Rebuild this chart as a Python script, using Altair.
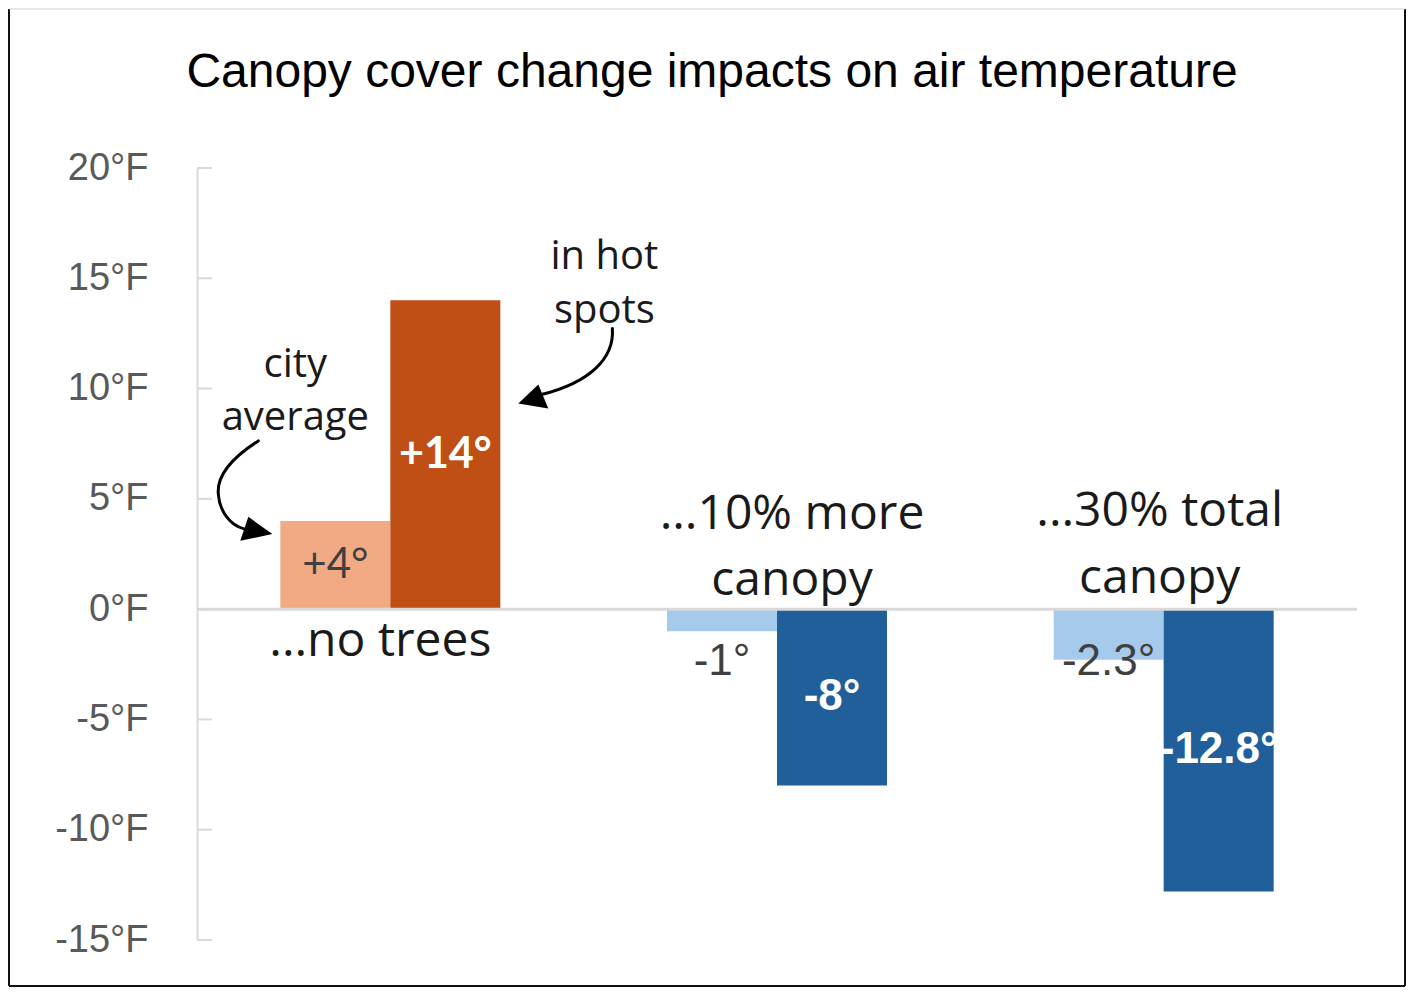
import altair as alt
import pandas as pd

# ---------------- data ----------------
groups = ["...no trees", "...10% more canopy", "...30% total canopy"]
series = ["city average", "in hot spots"]
city_avg = [4, -1, -2.3]
hot_spots = [14, -8, -12.8]
y_ticks = [-15, -10, -5, 0, 5, 10, 15, 20]
title_text = "Canopy cover change impacts on air temperature"
group_lines = [["...no trees"], ["...10% more", "canopy"], ["...30% total", "canopy"]]
bar_keys = ["warm-city average", "warm-in hot spots", "cool-city average", "cool-in hot spots"]
bar_colors = ["#F1AA84", "#C04F15", "#A6CAEC", "#215F9A"]

rows = []
for g, a, h in zip(groups, city_avg, hot_spots):
    for s, v in zip(series, [a, h]):
        key = ("warm" if v > 0 else "cool") + "-" + s
        # value labels: centred in the bar, small cool city-average labels sit just below the zero line
        label_y = v / 2 if (v > 0 or s == series[1]) else -2.4
        rows.append({"group": g, "series": s, "value": v, "key": key,
                     "label": f"{v:+g}°", "label_y": label_y})
df = pd.DataFrame(rows)

W, H = 1160, 772

X = alt.X("group:N", sort=groups, axis=None,
          scale=alt.Scale(paddingInner=0.431, paddingOuter=0.2155))
XO = alt.XOffset("series:N", sort=series,
                 scale=alt.Scale(paddingInner=0, paddingOuter=0))
yscale = alt.Scale(domain=[-15, 20], nice=False, zero=False)
yaxis = alt.Axis(values=y_ticks, labelExpr="datum.value + '°F'", title=None,
                 ticks=False, tickSize=0, domain=True, domainColor="#D9D9D9",
                 domainWidth=2, grid=False, labelFont="Liberation Sans",
                 labelFontSize=38, labelColor="#595959", labelPadding=49)


def Yf(field):
    return alt.Y(field, scale=yscale, axis=yaxis)


# ---------------- layers ----------------
tick_rules = alt.Chart(pd.DataFrame({"tick": y_ticks})).mark_rule(
    color="#D9D9D9", strokeWidth=2
).encode(y=Yf("tick:Q"), x=alt.value(0), x2=alt.value(15))

bars = alt.Chart(df).mark_bar().encode(
    x=X,
    xOffset=XO,
    y=Yf("value:Q"),
    color=alt.Color("key:N", scale=alt.Scale(domain=bar_keys, range=bar_colors), legend=None),
)

zero_line = alt.Chart(pd.DataFrame({"z": [0]})).mark_rule(
    color="#D9D9D9", strokeWidth=3
).encode(y=Yf("z:Q"), x=alt.value(0), x2=alt.value(W))


def value_labels(key, font, size, weight, color):
    return alt.Chart(df).transform_filter(alt.datum.key == key).mark_text(
        font=font, fontSize=size, fontWeight=weight, color=color,
        align="center", baseline="middle"
    ).encode(x=X, xOffset=XO, y=Yf("label_y:Q"), text="label:N")


lab1 = value_labels(bar_keys[0], "Lato", 42, "normal", "#404040")
lab2 = value_labels(bar_keys[1], "Lato", 43, "bold", "#FFFFFF")
lab3 = value_labels(bar_keys[2], "Liberation Sans", 44, "normal", "#404040")
lab4 = value_labels(bar_keys[3], "Liberation Sans", 44, "bold", "#FFFFFF")


def note(lines, group, yv, dx, size, lh, ser=None):
    # yv is the centre of the first line
    d = pd.DataFrame({"group": [group], "series": [ser or ""], "y": [yv], "t": [lines]})
    enc = dict(x=X, y=Yf("y:Q"), text="t:N")
    if ser:
        enc["xOffset"] = XO
    return alt.Chart(d).mark_text(
        font="Open Sans", fontSize=size, lineHeight=lh, color="#1A1A1A", dx=dx,
        align="center", baseline="middle"
    ).encode(**enc)


notes = [
    note(group_lines[0], groups[0], -1.5, -10, 48, 66),
    note(group_lines[1], groups[1], 4.27, 15, 48, 66),
    note(group_lines[2], groups[2], 4.40, -4, 48, 67),
    note(["city", "average"], groups[0], 11.07, -40, 40, 53, series[0]),
    note(["in hot", "spots"], groups[0], 15.96, 159, 40, 54, series[1]),
]

SYM = 57600  # custom symbol paths are in units of 120px


def arrow(group, ser, yv, curve, head):
    d = pd.DataFrame({"group": [group], "series": [ser], "y": [yv]})
    base = alt.Chart(d).encode(x=X, xOffset=XO, y=Yf("y:Q"))
    line = base.mark_point(shape=curve, size=SYM, filled=False, color="#000000",
                           strokeWidth=3, opacity=1, strokeCap="round")
    tip = base.mark_point(shape=head, size=SYM, filled=True, color="#000000",
                          strokeWidth=0, opacity=1)
    return [line, tip]


arrows = (
    arrow(groups[0], series[0], 5,
          "M -0.642 -0.483 C -0.85 -0.35 -0.99 -0.2 -0.975 -0.04 C -0.965 0.1 -0.88 0.22 -0.76 0.25",
          "M -0.525 0.292 L -0.725 0.15 L -0.792 0.35 Z")
    + arrow(groups[0], series[1], 10,
            "M 1.392 -0.5 C 1.41 -0.25 1.2 -0.05 0.80 0.05",
            "M 0.608 0.125 L 0.775 -0.033 L 0.858 0.167 Z")
)

title = alt.Chart(pd.DataFrame({"t": [title_text]})).mark_text(
    font="Liberation Sans", fontSize=48, color="#000000", align="center", baseline="alphabetic"
).encode(text="t:N", x=alt.value(515), y=alt.value(-81))

one = pd.DataFrame({"k": [0]})
frame = [
    alt.Chart(one).mark_rule(color="#111111", strokeWidth=2).encode(
        x=alt.value(-188), y=alt.value(-159), y2=alt.value(818)),
    alt.Chart(one).mark_rule(color="#111111", strokeWidth=2).encode(
        x=alt.value(1208), y=alt.value(-159), y2=alt.value(818)),
    alt.Chart(one).mark_rule(color="#111111", strokeWidth=2).encode(
        y=alt.value(818), x=alt.value(-188), x2=alt.value(1208)),
    alt.Chart(one).mark_rule(color="#D0D0D0", strokeWidth=1).encode(
        y=alt.value(-159), x=alt.value(-188), x2=alt.value(1208)),
]

chart = alt.layer(
    *frame, tick_rules, bars, zero_line, lab1, lab2, lab3, lab4, *notes, *arrows, title
).properties(
    width=W, height=H,
    autosize=alt.AutoSizeParams(type="none"),
    padding={"left": 189, "top": 160, "right": 49, "bottom": 47},
).configure_view(strokeWidth=0)

chart.save("out.html", embed_options={"renderer": "svg", "actions": False})
